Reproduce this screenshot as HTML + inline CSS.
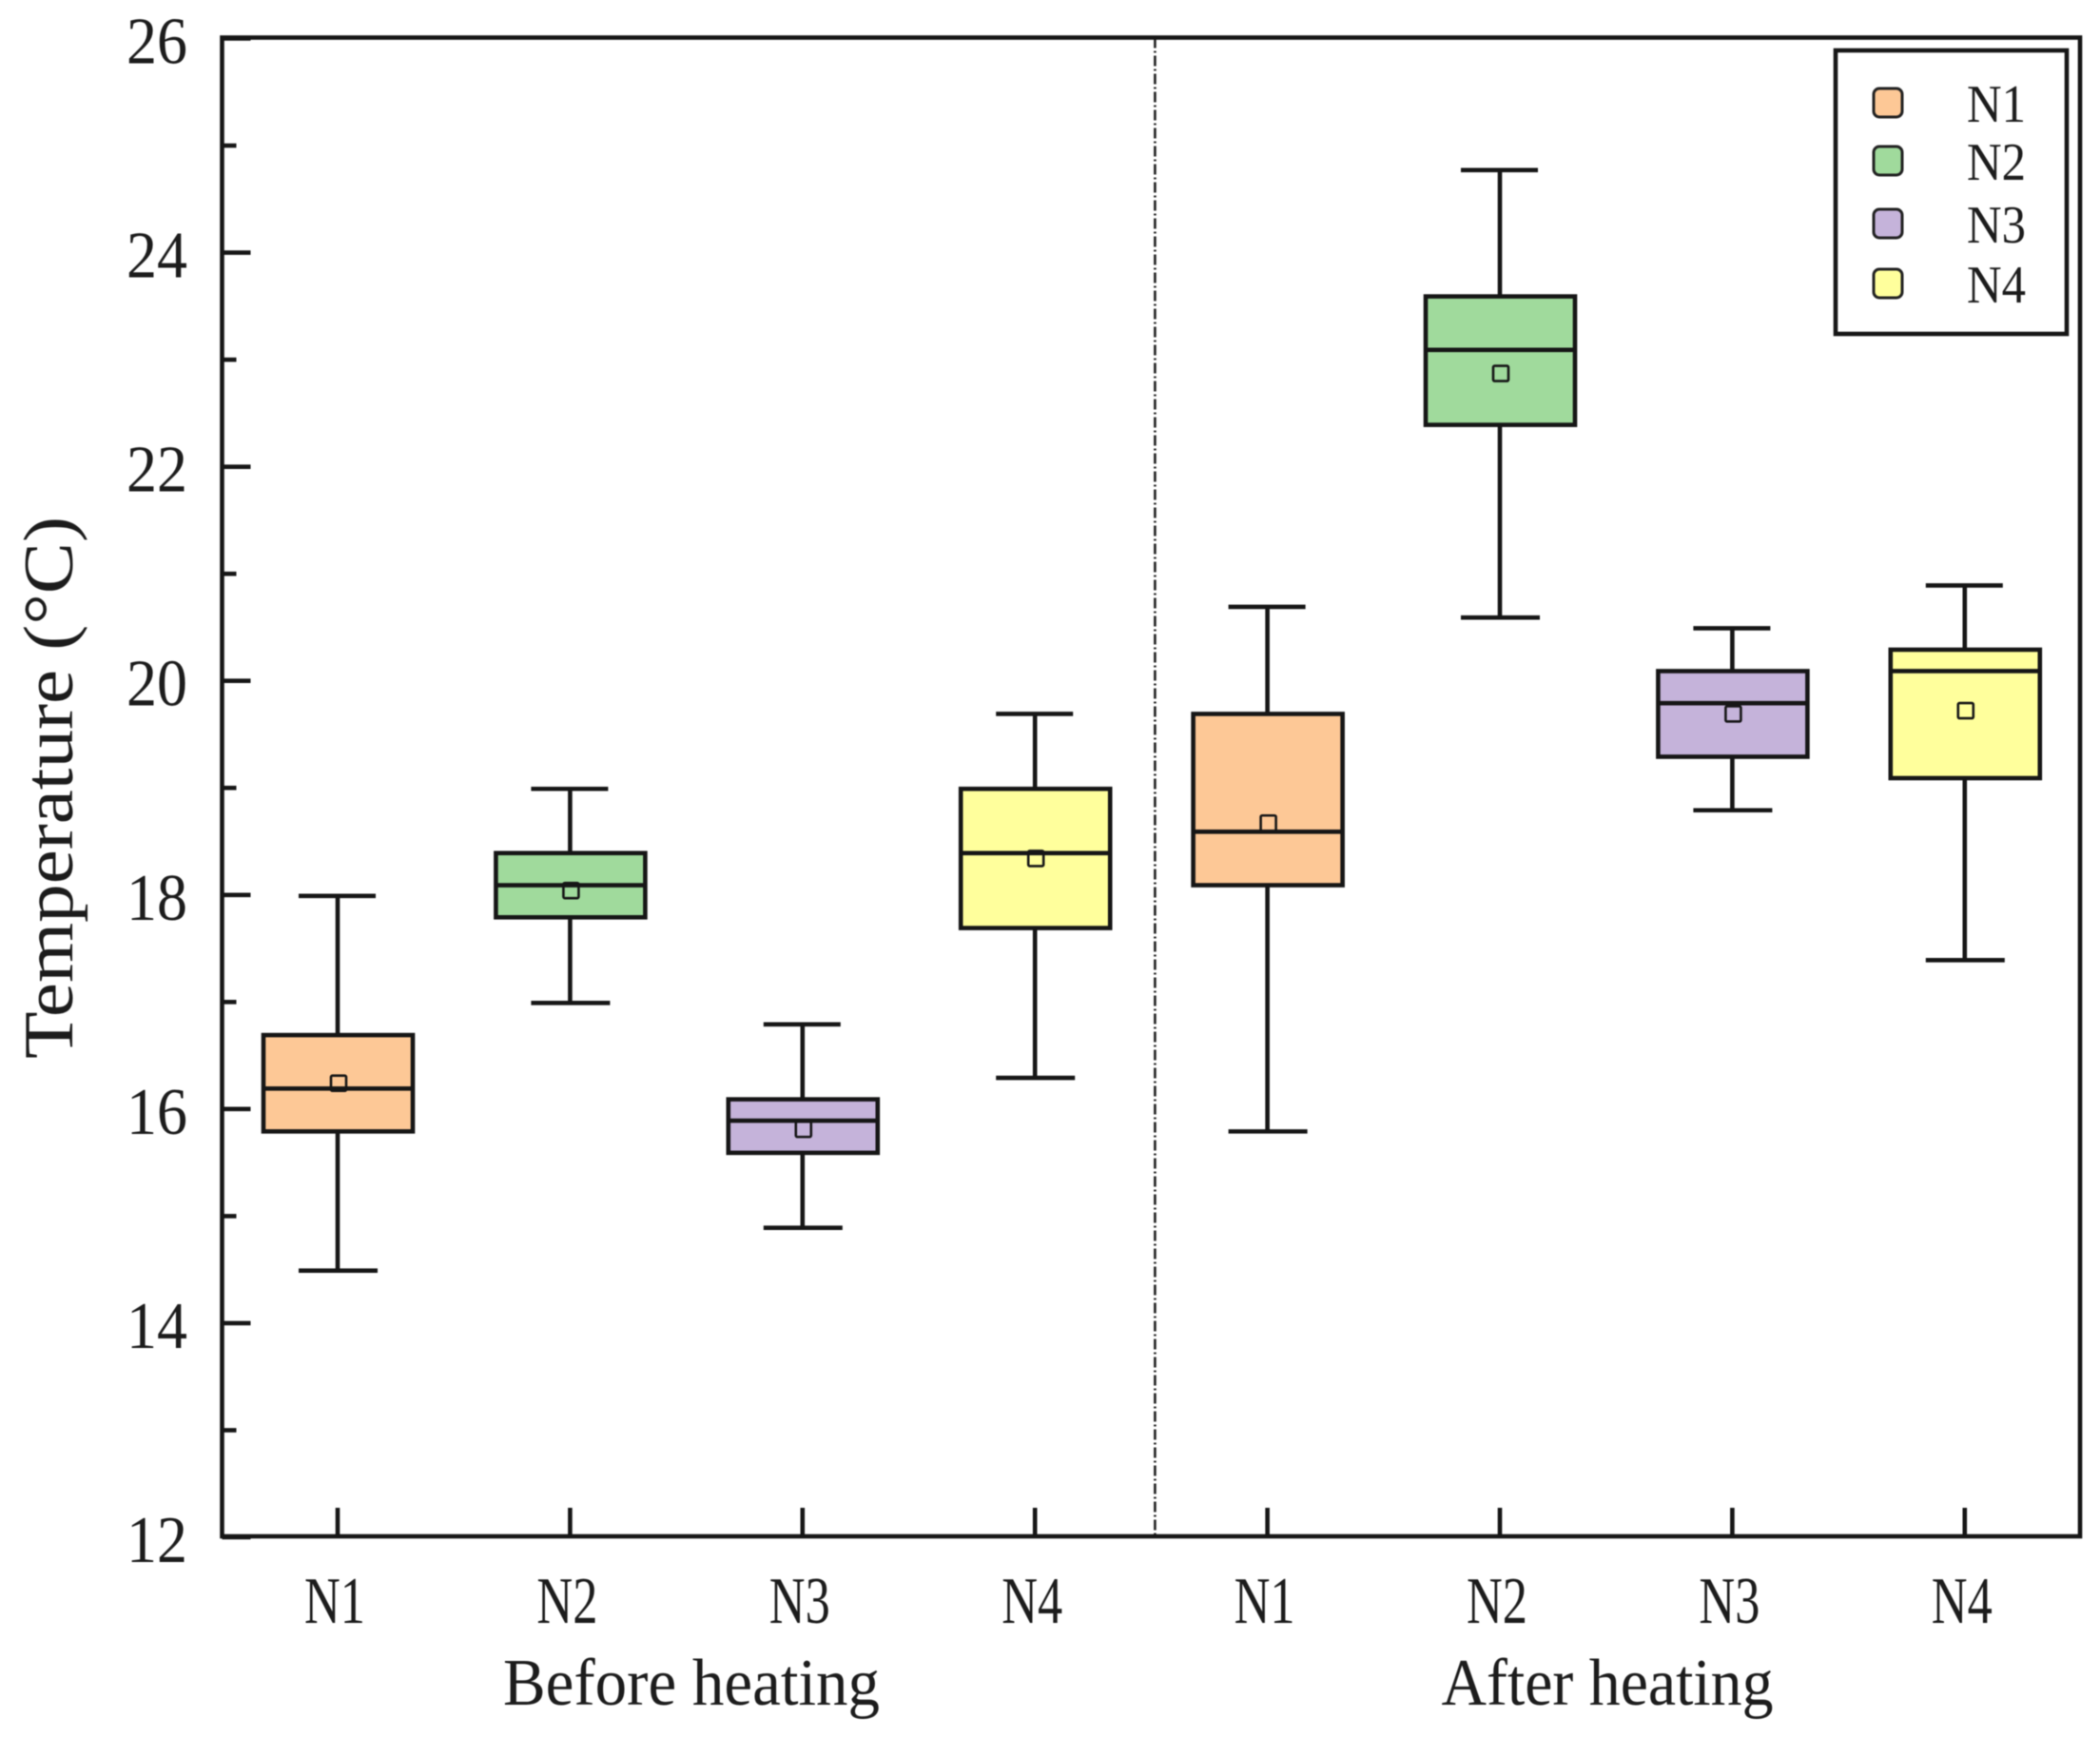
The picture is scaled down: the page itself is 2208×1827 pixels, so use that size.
<!DOCTYPE html>
<html lang="en">
<head>
<meta charset="utf-8">
<title>Temperature before and after heating</title>
<style>
  html, body { margin: 0; padding: 0; background: #fff; }
  #chart { display: block; filter: blur(0.6px); }
  text { font-family: "Liberation Serif", "DejaVu Serif", serif; fill: #1c1c1c; }
</style>
</head>
<body>
<svg id="chart" xmlns="http://www.w3.org/2000/svg" width="2208" height="1827" viewBox="0 0 2208 1827"></svg>
<script>
const categories = ["N1", "N2", "N3", "N4", "N1", "N2", "N3", "N4"];
const whiskerLow = [14.5, 17.0, 14.9, 16.3, 15.8, 20.6, 18.8, 17.4];
const boxLow = [15.8, 17.8, 15.6, 17.7, 18.1, 22.4, 19.3, 19.1];
const medians = [16.2, 18.1, 15.9, 18.4, 18.6, 23.1, 19.8, 20.1];
const means = [16.25, 18.05, 15.82, 18.35, 18.68, 22.88, 19.7, 19.73];
const boxHigh = [16.7, 18.4, 16.1, 19.0, 19.7, 23.6, 20.1, 20.3];
const whiskerHigh = [18.0, 19.0, 16.8, 19.7, 20.7, 24.78, 20.5, 20.9];
const yMajorTicks = [12, 14, 16, 18, 20, 22, 24, 26];
const yMinorTicks = [13, 15, 17, 19, 21, 23, 25];
const legendLabels = ["N1", "N2", "N3", "N4"];
const palette = ["#FDC896", "#A0DA9C", "#C5B3DA", "#FFFF9C"];

const NS = "http://www.w3.org/2000/svg";
const svg = document.getElementById("chart");
const plot = { left: 233.5, right: 2187, top: 39.5, bottom: 1615 };
const markShift = 2;
const lineWidth = 4.6;

function xScale(i) { return 355 + 244.4 * i; }
function yScale(v) { return plot.bottom - (v - 12) * (plot.bottom - plot.top) / 14; }
function yMark(v) { return yScale(v) + markShift; }

function make(tag, attrs, parent) {
  const node = document.createElementNS(NS, tag);
  for (const k in attrs) node.setAttribute(k, attrs[k]);
  (parent || svg).appendChild(node);
  return node;
}
function line(x1, y1, x2, y2, width, parent) {
  return make("line", { x1, y1, x2, y2, stroke: "#161616", "stroke-width": width }, parent);
}
function label(str, x, y, size, length, anchor, parent) {
  const t = make("text", { x, y, "font-size": size, "text-anchor": anchor, textLength: length, lengthAdjust: "spacingAndGlyphs" }, parent);
  t.textContent = str;
  return t;
}

let el;

// Divider between before / after
el = make("line", { x1: xScale(3.5) + 4, y1: plot.top, x2: xScale(3.5) + 4, y2: plot.bottom, stroke: "#222", "stroke-width": 2.6, "stroke-dasharray": "11 3 2 3" });



// Box plots
categories.forEach(function (cat, i) {
  const cx = xScale(i);
  const g = make("g", {});
  
  

  el = line(cx, yMark(whiskerLow[i]), cx, yMark(whiskerHigh[i]), lineWidth, g);
  
  

  el = line(cx - 41, yMark(whiskerLow[i]), cx + 42, yMark(whiskerLow[i]), lineWidth, g);
  
  

  el = line(cx - 41, yMark(whiskerHigh[i]), cx + 40, yMark(whiskerHigh[i]), lineWidth, g);
  
  

  el = make("rect", {
    x: cx - 78, y: yMark(boxHigh[i]), width: 157,
    height: yMark(boxLow[i]) - yMark(boxHigh[i]),
    fill: palette[i % 4], stroke: "#161616", "stroke-width": lineWidth
  }, g);
  
  

  el = make("rect", {
    x: cx - 7, y: yMark(means[i]) - 8, width: 16, height: 16, rx: 1.5,
    fill: palette[i % 4], stroke: "#161616", "stroke-width": 2.6
  }, g);
  
  

  el = line(cx - 78, yMark(medians[i]), cx + 79, yMark(medians[i]), lineWidth, g);
  
  
});

// Plot frame
el = make("rect", { x: plot.left, y: plot.top, width: plot.right - plot.left, height: plot.bottom - plot.top, fill: "none", stroke: "#161616", "stroke-width": lineWidth });



// Y axis ticks and labels
yMajorTicks.forEach(function (v) {
  el = line(plot.left, yScale(v) + 1, plot.left + 30, yScale(v) + 1, lineWidth);
  
  

  el = label(String(v), 197, yScale(v) + 27, 70, 64, "end");
  
  
});
yMinorTicks.forEach(function (v) {
  el = line(plot.left, yScale(v) + 1, plot.left + 15, yScale(v) + 1, lineWidth);
  
  
});

// X axis ticks and labels
categories.forEach(function (cat, i) {
  el = line(xScale(i), plot.bottom, xScale(i), plot.bottom - 30, lineWidth);
  
  

  el = label(cat, xScale(i) - 3, 1706, 70, 64, "middle");
  
  
});

// Group titles
el = label("Before heating", 727, 1792, 70, 396, "middle");



el = label("After heating", 1690, 1792, 70, 349, "middle");



// Y axis title
el = make("text", { transform: "translate(76 828) rotate(-90)", "font-size": 74, "text-anchor": "middle", textLength: 570, lengthAdjust: "spacingAndGlyphs" });
el.textContent = "Temperature (°C)";



// Legend
const legend = make("g", {});



el = make("rect", { x: 1930, y: 53, width: 243, height: 298, fill: "#fff", stroke: "#161616", "stroke-width": lineWidth }, legend);



const legendRowY = [108, 169, 235, 298];
legendLabels.forEach(function (name, i) {
  el = make("rect", { x: 1970, y: legendRowY[i] - 15, width: 30, height: 30, rx: 6, fill: palette[i], stroke: "#222", "stroke-width": 3 }, legend);
  
  

  el = label(name, 2068, legendRowY[i] + 20, 56, 62, "start", legend);
  
  
});
</script>
</body>
</html>
